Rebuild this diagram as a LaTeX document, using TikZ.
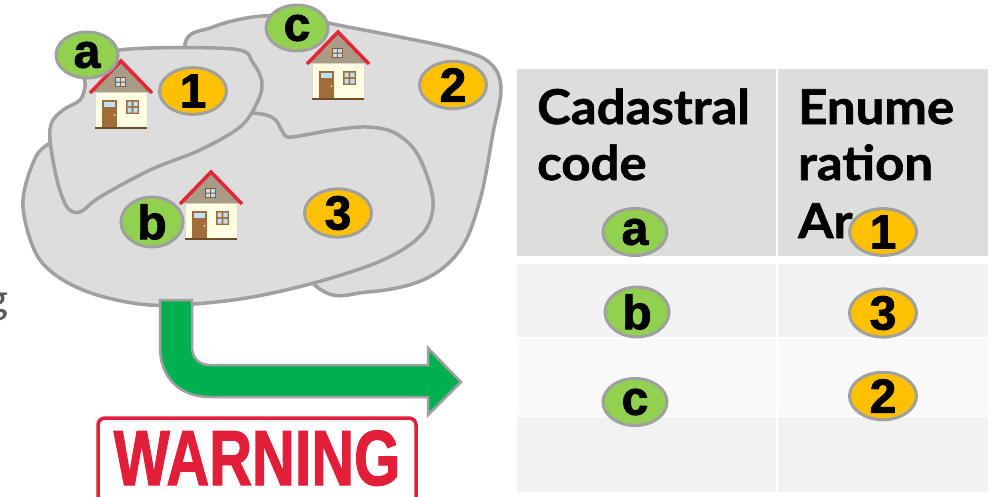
\documentclass[tikz,border=0pt]{standalone}
\usepackage{fontspec}
\setmainfont{Liberation Sans}
\newfontfamily\headfont[FakeStretch=1.06, BoldFeatures={FakeBold=1.3}]{Lato}
\newfontfamily\tagfont[BoldFeatures={FakeBold=1.8}]{Liberation Sans}
\usetikzlibrary{shapes.geometric}
\definecolor{cLand}{RGB}{221,221,221}
\definecolor{cEdge}{RGB}{160,160,160}
\definecolor{cCode}{RGB}{146,208,80}
\definecolor{cEnum}{RGB}{255,192,0}
\definecolor{cArrow}{RGB}{0,176,80}
\definecolor{cStamp}{RGB}{226,30,56}
\definecolor{cHead}{RGB}{221,221,221}
\definecolor{cRowA}{RGB}{242,242,242}
\definecolor{cRowB}{RGB}{249,249,249}
\definecolor{cWall}{RGB}{255,253,226}
\definecolor{cDoor}{RGB}{160,108,58}
\definecolor{cGlass}{RGB}{190,225,245}
\definecolor{cGable}{RGB}{170,156,132}
\definecolor{cRoof}{RGB}{226,40,56}
\tikzset{
	land/.style    ={fill=cLand, draw=cEdge, line width=3.5, line join=round},
	codetag/.style ={ellipse, draw=cEdge, line width=3, fill=cCode, minimum width=62, minimum height=46, inner sep=0pt, font=\tagfont\fontsize{48}{48}\selectfont\bfseries},
	enumtag/.style ={codetag, fill=cEnum, minimum width=67, minimum height=43},
	headtxt/.style ={anchor=base west, inner sep=0pt, font=\headfont\fontsize{48}{48}\selectfont\bfseries},
	% small house, origin at the middle of its ground line
	house/.pic={
		\fill[cWall, draw=black!15, line width=0.6] (-26,0) rectangle (26,-36);
		\draw[cDoor!70!black, line width=1.2] (-26,0) -- (26,0);
		\fill[cDoor] (-19,-1) rectangle (-4,-28);
		\fill[cGlass] (-17,-21) rectangle (-6,-26);
		\fill[white] (-6.5,-13) circle (0.9);
		\fill[cDoor] (5,-14) rectangle (18,-28);
		\fill[cGlass] (6.5,-15.5) rectangle (10.7,-20.2) (12.3,-15.5) rectangle (16.5,-20.2)
			(6.5,-21.8) rectangle (10.7,-26.5) (12.3,-21.8) rectangle (16.5,-26.5);
		\fill[cGable] (-29,-36) -- (0,-66) -- (29,-36) -- cycle;
		\draw[cRoof, line width=3.5, line join=miter] (-31,-35) -- (0,-67) -- (31,-35);
		\fill[cDoor!80!black] (-6,-41) rectangle (5,-51);
		\fill[cGlass] (-5,-42) rectangle (-1,-45.5) (0,-42) rectangle (4,-45.5)
			(-5,-46.5) rectangle (-1,-50) (0,-46.5) rectangle (4,-50);
	},
}

\begin{document}
\begin{tikzpicture}[x=1pt, y=-1pt]
	\useasboundingbox (0,0) rectangle (992,496);
	% tail of a line of text cut by the left edge
	\node[anchor=base east, inner sep=0pt, text=black!65, font=\headfont\fontsize{42}{42}\selectfont] (cut) at (9,313) {g};

	% parcels: back, front, then the one in the corner
	\draw[land] plot[smooth cycle, tension=0.6] coordinates {(185,44) (213,27) (253,17) (297,16) (333,24) (400,37) (460,50) (490,63) (501,88)
		(493,133) (480,200) (460,250) (423,280) (367,292) (317,287) (250,200) (200,110)};
	\draw[land] plot[smooth cycle, tension=0.55] coordinates {(50,143) (100,122) (180,110) (253,113) (273,118) (280,127) (284,134) (292,137)
		(333,130) (367,127) (395,133) (418,155) (433,200) (423,233) (383,260) (310,284) (233,300) (150,305) (83,290) (40,260) (23,207) (33,163)};
	\draw[land] plot[smooth cycle, tension=0.55] coordinates {(120,50) (233,49) (253,63) (262,83) (257,103) (240,127) (200,150) (150,170)
		(100,197) (80,212) (67,207) (57,180) (50,140) (52,122) (63,110) (80,100) (85,87) (87,70)};

	\pic at (121,128) {house};
	\pic at (338,99) {house};
	\pic at (211,239) {house};

	\node[codetag] (mapA) at (87,55) {a};
	\node[codetag] (mapC) at (297,28) {c};
	\node[codetag] (mapB) at (152,222) {b};
	\node[enumtag] (map1) at (193,91) {1};
	\node[enumtag] (map2) at (453,85) {2};
	\node[enumtag] (map3) at (338,213) {3};

	% bent block arrow from the map to the table
	\draw[fill=cArrow, draw=cEdge, line width=2.5, line join=miter] (160,300) -- (160,347) .. controls (160,378) and (180,397) .. (210,397)
		-- (428,397) -- (428,415) -- (461,382) -- (428,348) -- (428,365) -- (210,365)
		.. controls (199,365) and (192,358) .. (192,347) -- (192,300) -- cycle;

	% stamp
	\draw[cStamp, line width=3.5, rounded corners=7] (98,500) -- (98,418) -- (416,418) -- (416,500);
	\node[anchor=base, inner sep=0pt, xscale=0.76, text=cStamp, font=\tagfont\fontsize{78}{78}\selectfont\bfseries] (stamp) at (257,485) {WARNING};

	% table
	\foreach \ya/\yb/\col in {69/256/cHead, 264/337/cRowA, 339/415/cRowB, 417/492/cRowA} {
		\fill[\col] (517,\ya) rectangle (776,\yb);
		\fill[\col] (778,\ya) rectangle (988,\yb);
	}
	\node[headtxt] (hCad) at (537,124) {Cadastral};
	\node[headtxt] (hCode) at (537,180) {code};
	\node[headtxt] (hEnu) at (798,124) {Enume};
	\node[headtxt] (hRat) at (798,180) {ration};
	\node[headtxt] (hAr) at (798,238) {Ar};

	\node[codetag, minimum width=64, minimum height=47] (rowA) at (635,232) {a};
	\node[codetag, minimum width=64, minimum height=47] (rowB) at (637,312) {b};
	\node[codetag, minimum width=64, minimum height=47] (rowC) at (635,402) {c};
	\node[enumtag] (row1) at (883,232) {1};
	\node[enumtag] (row3) at (883,313) {3};
	\node[enumtag] (row2) at (883,396) {2};
\end{tikzpicture}
\end{document}
